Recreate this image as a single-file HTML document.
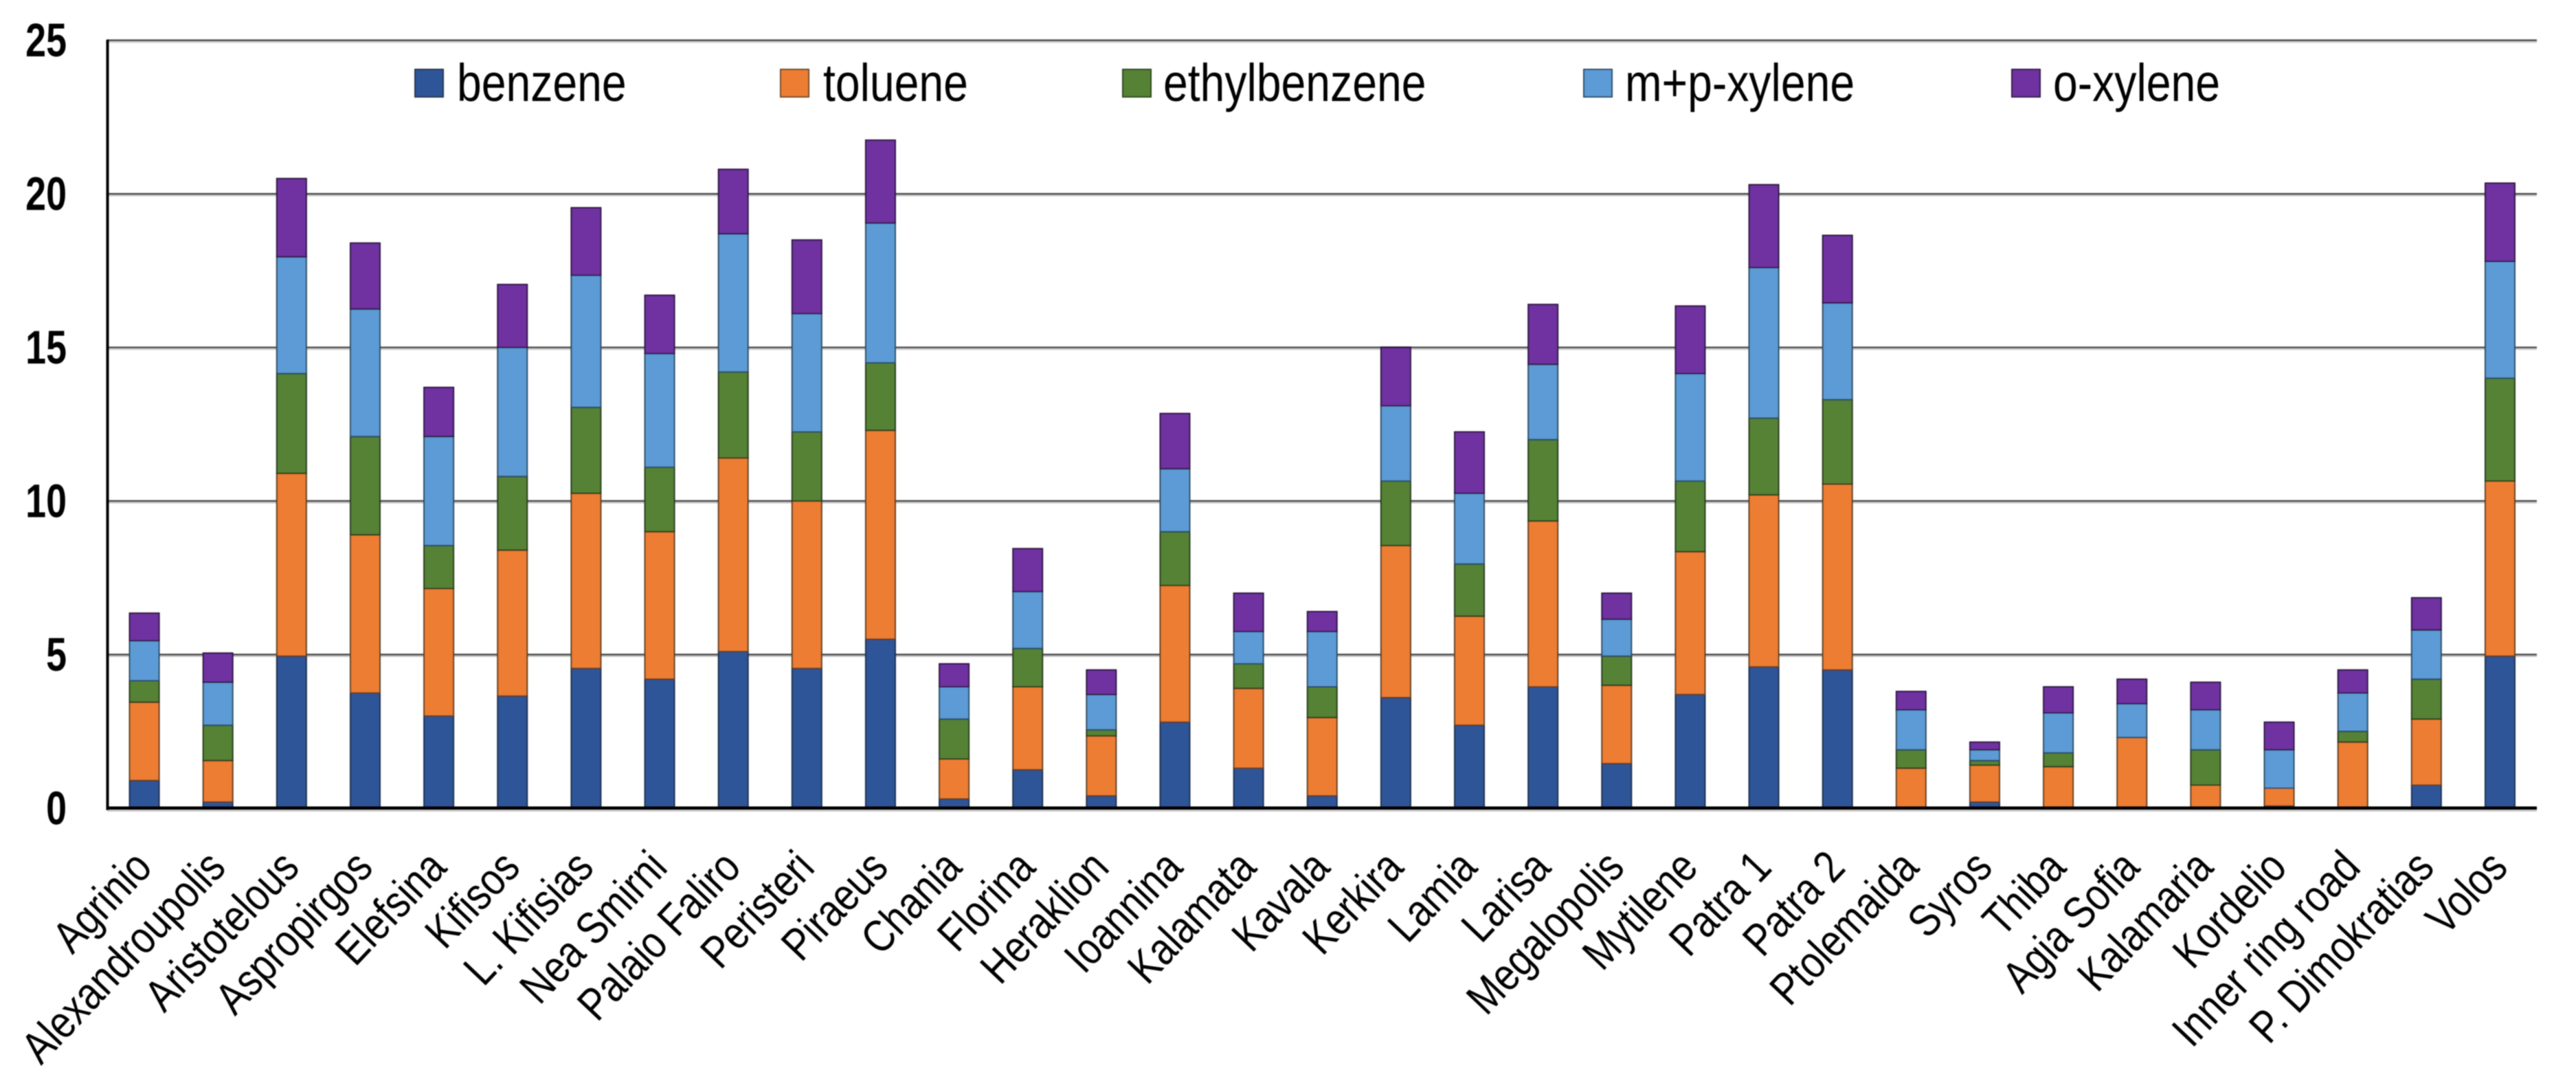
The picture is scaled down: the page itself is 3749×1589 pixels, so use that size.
<!DOCTYPE html>
<html lang="en">
<head>
<meta charset="utf-8">
<title>BTEX concentrations by site</title>
<style>
  html, body { margin: 0; padding: 0; background: #fff; }
  svg { display: block; font-family: "Liberation Sans", Arial, sans-serif; }
</style>
</head>
<body>
<svg id="chart" xmlns="http://www.w3.org/2000/svg" width="3749" height="1589" viewBox="0 0 3749 1589">
  <defs>
    <filter id="soft" x="-2%" y="-2%" width="104%" height="104%"><feGaussianBlur stdDeviation="0.7"/></filter>
  </defs>
  <rect x="0" y="0" width="3749" height="1589" fill="#ffffff"/>
  <g id="grid" filter="url(#soft)"></g>
  <g id="bars" filter="url(#soft)"></g>
  <g id="axes" filter="url(#soft)"></g>
  <g id="ylabels" filter="url(#soft)"></g>
  <g id="xlabels" filter="url(#soft)"></g>
  <g id="legend" filter="url(#soft)">
    <g>
      <rect x="604" y="101" width="41" height="40" fill="#2F5597" stroke="#26344f" stroke-width="2"/>
      <text transform="translate(665,147) scale(0.835,1)" font-size="77" fill="#000">benzene</text>
    </g>
    <g>
      <rect x="1136" y="101" width="41" height="40" fill="#ED7D31" stroke="#6b4a2c" stroke-width="2"/>
      <text transform="translate(1198,147) scale(0.835,1)" font-size="77" fill="#000">toluene</text>
    </g>
    <g>
      <rect x="1634" y="101" width="41" height="40" fill="#548235" stroke="#2f4522" stroke-width="2"/>
      <text transform="translate(1693,147) scale(0.835,1)" font-size="77" fill="#000">ethylbenzene</text>
    </g>
    <g>
      <rect x="2305" y="101" width="41" height="40" fill="#5B9BD5" stroke="#2f4c68" stroke-width="2"/>
      <text transform="translate(2365,147) scale(0.835,1)" font-size="77" fill="#000">m+p-xylene</text>
    </g>
    <g>
      <rect x="2928" y="101" width="41" height="40" fill="#7030A0" stroke="#2e1a45" stroke-width="2"/>
      <text transform="translate(2988,147) scale(0.835,1)" font-size="77" fill="#000">o-xylene</text>
    </g>
  </g>
</svg>
<script>
const categories = ["Agrinio","Alexandroupolis","Aristotelous","Aspropirgos","Elefsina","Kifisos","L. Kifisias","Nea Smirni","Palaio Faliro","Peristeri","Piraeus","Chania","Florina","Heraklion","Ioannina","Kalamata","Kavala","Kerkira","Lamia","Larisa","Megalopolis","Mytilene","Patra 1","Patra 2","Ptolemaida","Syros","Thiba","Agia Sofia","Kalamaria","Kordelio","Inner ring road","P. Dimokratias","Volos"];
const benzene = [0.9,0.2,4.95,3.75,3,3.65,4.55,4.2,5.1,4.55,5.5,0.3,1.25,0.4,2.8,1.3,0.4,3.6,2.7,3.95,1.45,3.7,4.6,4.5,0,0.2,0,0,0,0.07,0,0.75,4.95];
const toluene = [2.55,1.35,5.95,5.15,4.15,4.75,5.7,4.8,6.3,5.45,6.8,1.3,2.7,1.95,4.45,2.6,2.55,4.95,3.55,5.4,2.55,4.65,5.6,6.05,1.3,1.2,1.35,2.3,0.75,0.58,2.15,2.15,5.7];
const ethylbenzene = [0.7,1.15,3.25,3.2,1.4,2.4,2.8,2.1,2.8,2.25,2.2,1.3,1.25,0.2,1.75,0.8,1,2.1,1.7,2.65,0.95,2.3,2.5,2.75,0.6,0.15,0.45,0,1.15,0,0.35,1.3,3.35];
const mpXylene = [1.3,1.4,3.8,4.15,3.55,4.2,4.3,3.7,4.5,3.85,4.55,1.05,1.85,1.15,2.05,1.05,1.8,2.45,2.3,2.45,1.2,3.5,4.9,3.15,1.3,0.35,1.3,1.1,1.3,1.25,1.25,1.6,3.8];
const oXylene = [0.9,0.95,2.55,2.15,1.6,2.05,2.2,1.9,2.1,2.4,2.7,0.75,1.4,0.8,1.8,1.25,0.65,1.9,2,1.95,0.85,2.2,2.7,2.2,0.6,0.25,0.85,0.8,0.9,0.9,0.75,1.05,2.55];
const yTicks = [0,5,10,15,20,25];

const seriesList = [
  { key: "benzene", values: benzene, fill: "#2F5597", stroke: "#1f2f4d" },
  { key: "toluene", values: toluene, fill: "#ED7D31", stroke: "#5a3c22" },
  { key: "ethylbenzene", values: ethylbenzene, fill: "#548235", stroke: "#25371a" },
  { key: "m-p-xylene", values: mpXylene, fill: "#5B9BD5", stroke: "#2c4860" },
  { key: "o-xylene", values: oXylene, fill: "#7030A0", stroke: "#2a1640" }
];

const NS = "http://www.w3.org/2000/svg";
const plot = { left: 156.5, right: 3692, top: 58.7, bottom: 1176, yMax: 25 };
const band = (plot.right - plot.left) / categories.length;
const barWidth = 43;
function xCenter(i) { return plot.left + band * (i + 0.5); }
function yScale(v) { return plot.bottom - (v / plot.yMax) * (plot.bottom - plot.top); }
function make(tag, attrs, parent) {
  const el = document.createElementNS(NS, tag);
  for (const k in attrs) el.setAttribute(k, attrs[k]);
  parent.appendChild(el);
  return el;
}

const gridG = document.getElementById("grid");
const barsG = document.getElementById("bars");
const axesG = document.getElementById("axes");
const yLabG = document.getElementById("ylabels");
const xLabG = document.getElementById("xlabels");

yTicks.forEach(function (t) {
  const y = yScale(t);
  if (t !== 0) {
    const shade = make("line", { x1: plot.left, x2: plot.right, y1: y + 2.5, y2: y + 2.5, stroke: "#c8c8c8", "stroke-width": 2 }, gridG);
    
    
    const line = make("line", { x1: plot.left, x2: plot.right, y1: y, y2: y, stroke: "#4a4a4a", "stroke-width": 2.6 }, gridG);
    
    
  }
  const label = make("text", { transform: "translate(97," + (y + 23.5) + ") scale(0.78,1)", "text-anchor": "end", "font-size": 69, "font-weight": "bold", fill: "#000" }, yLabG);
  label.textContent = String(t);
  
  
});

categories.forEach(function (name, i) {
  let cumulative = 0;
  const cx = xCenter(i);
  seriesList.forEach(function (s) {
    const v = s.values[i];
    const y0 = yScale(cumulative);
    const y1 = yScale(cumulative + v);
    cumulative += v;
    if (v <= 0) return;
    const bar = make("rect", { x: cx - barWidth / 2, y: y1, width: barWidth, height: Math.max(y0 - y1, 0.5), fill: s.fill, stroke: s.stroke, "stroke-width": 2 }, barsG);
    
    
  });
  const label = make("text", { transform: "translate(" + (cx + 14) + ",1265) rotate(-46.5) scale(0.84,1)", "text-anchor": "end", "font-size": 66, fill: "#000" }, xLabG);
  label.textContent = name;
  
  
});

const yAxis = make("line", { x1: plot.left, x2: plot.left, y1: plot.top - 1, y2: plot.bottom + 3, stroke: "#000", "stroke-width": 4 }, axesG);


const xAxisShade = make("line", { x1: plot.left, x2: plot.right, y1: plot.bottom + 4, y2: plot.bottom + 4, stroke: "#c8c8c8", "stroke-width": 2 }, axesG);


const xAxis = make("line", { x1: plot.left, x2: plot.right, y1: plot.bottom, y2: plot.bottom, stroke: "#000", "stroke-width": 5 }, axesG);


</script>
</body>
</html>
